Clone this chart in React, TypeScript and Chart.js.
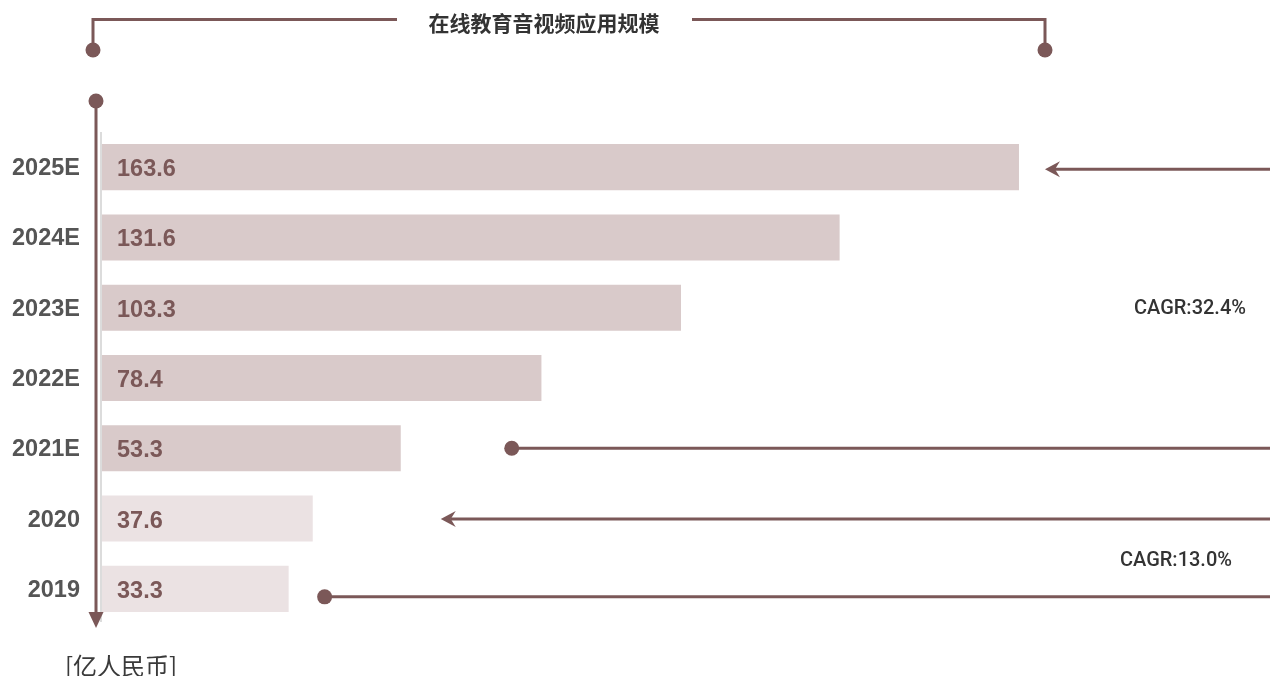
import React, { useEffect, useRef } from 'react';
import { Chart, registerables } from 'chart.js';

Chart.register(...registerables);

const categories = ['2025E', '2024E', '2023E', '2022E', '2021E', '2020', '2019'];
const values = [163.6, 131.6, 103.3, 78.4, 53.3, 37.6, 33.3];
const titleText = '在线教育音视频应用规模';
const unitText = '[亿人民币]';
const cagrLabels = ['CAGR:32.4%', 'CAGR:13.0%'];

const BROWN = '#7b5858';
const BAR_EST = '#d9caca';
const BAR_ACT = '#ebe2e3';

function drawDot(ctx: CanvasRenderingContext2D, x: number, y: number, r: number) {
  ctx.beginPath();
  ctx.arc(x, y, r, 0, Math.PI * 2);
  ctx.fill();
}

function drawLeftArrow(ctx: CanvasRenderingContext2D, tipX: number, y: number) {
  ctx.beginPath();
  ctx.moveTo(tipX, y);
  ctx.lineTo(tipX + 15, y - 8);
  ctx.lineTo(tipX + 10, y);
  ctx.lineTo(tipX + 15, y + 8);
  ctx.closePath();
  ctx.fill();
}

const decorPlugin = {
  id: 'decor',
  afterDatasetsDraw(chart: any) {
    const ctx: CanvasRenderingContext2D = chart.ctx;
    const meta = chart.getDatasetMeta(0);
    ctx.save();
    ctx.fillStyle = BROWN;
    ctx.font = 'bold 23.5px "Liberation Sans", Arial, sans-serif';
    ctx.textAlign = 'left';
    ctx.textBaseline = 'middle';
    meta.data.forEach((bar: any, i: number) => {
      ctx.fillText(values[i].toFixed(1), bar.base + 15, bar.y + 2.5);
    });
    ctx.restore();
  },
  afterDraw(chart: any) {
    const ctx: CanvasRenderingContext2D = chart.ctx;
    const area = chart.chartArea;
    const xs = chart.scales.x;
    const ys = chart.scales.y;
    ctx.save();

    // light axis line
    ctx.strokeStyle = '#dcdcdc';
    ctx.lineWidth = 2;
    ctx.beginPath();
    ctx.moveTo(area.left - 1, area.top);
    ctx.lineTo(area.left - 1, area.bottom - 2);
    ctx.stroke();

    ctx.strokeStyle = BROWN;
    ctx.fillStyle = BROWN;
    ctx.lineWidth = 3;

    // title bracket
    ctx.beginPath();
    ctx.moveTo(93, 50);
    ctx.lineTo(93, 19.5);
    ctx.lineTo(397, 19.5);
    ctx.moveTo(692, 19.5);
    ctx.lineTo(1045, 19.5);
    ctx.lineTo(1045, 50);
    ctx.stroke();
    drawDot(ctx, 93, 50, 7.5);
    drawDot(ctx, 1045, 50, 7.5);

    ctx.fillStyle = '#333333';
    ctx.font = 'bold 21px "Noto Sans CJK SC", sans-serif';
    ctx.textAlign = 'center';
    ctx.textBaseline = 'middle';
    ctx.fillText(titleText, 544, 23);

    // vertical axis arrow
    ctx.fillStyle = BROWN;
    ctx.beginPath();
    ctx.moveTo(96, 101);
    ctx.lineTo(96, 614);
    ctx.stroke();
    drawDot(ctx, 96, 101, 7.5);
    ctx.beginPath();
    ctx.moveTo(88.5, 612);
    ctx.lineTo(103.5, 612);
    ctx.lineTo(96, 628);
    ctx.closePath();
    ctx.fill();

    // unit label
    ctx.fillStyle = '#3a3a3a';
    ctx.font = '24px "Noto Sans CJK SC", sans-serif';
    ctx.textAlign = 'left';
    ctx.textBaseline = 'middle';
    ctx.fillText(unitText, 65, 666);

    // right-side annotation lines
    ctx.fillStyle = BROWN;
    const right = 1270;
    const yTop = ys.getPixelForValue(0) + 2;
    const xTop = xs.getPixelForValue(values[0]) + 26;
    ctx.beginPath();
    ctx.moveTo(right, yTop);
    ctx.lineTo(xTop + 10, yTop);
    ctx.stroke();
    drawLeftArrow(ctx, xTop, yTop);

    const y21 = ys.getPixelForValue(4);
    const x21 = xs.getPixelForValue(values[4]) + 111;
    ctx.beginPath();
    ctx.moveTo(right, y21);
    ctx.lineTo(x21, y21);
    ctx.stroke();
    drawDot(ctx, x21, y21, 7.5);

    const y20 = ys.getPixelForValue(5) + 0.5;
    const x20 = xs.getPixelForValue(values[5]) + 128;
    ctx.beginPath();
    ctx.moveTo(right, y20);
    ctx.lineTo(x20 + 10, y20);
    ctx.stroke();
    drawLeftArrow(ctx, x20, y20);

    const y19 = ys.getPixelForValue(6) + 8;
    const x19 = xs.getPixelForValue(values[6]) + 36;
    ctx.beginPath();
    ctx.moveTo(right, y19);
    ctx.lineTo(x19, y19);
    ctx.stroke();
    drawDot(ctx, x19, y19, 7.5);

    // CAGR labels
    ctx.fillStyle = '#333333';
    ctx.font = '500 20px Roboto, sans-serif';
    ctx.textAlign = 'center';
    ctx.textBaseline = 'middle';
    ctx.fillText(cagrLabels[0], 1190, ys.getPixelForValue(2) + 1);
    ctx.fillText(cagrLabels[1], 1176, (y20 + y19) / 2 + 3);

    ctx.restore();
  },
};

export default function App() {
  const ref = useRef<HTMLCanvasElement>(null);

  useEffect(() => {
    if (!ref.current) return;
    const chart = new Chart(ref.current, {
      type: 'bar',
      data: {
        labels: categories,
        datasets: [
          {
            data: values,
            backgroundColor: categories.map((c) => (c.endsWith('E') ? BAR_EST : BAR_ACT)),
            borderWidth: 0,
            barPercentage: 0.655,
            categoryPercentage: 1,
          },
        ],
      },
      options: {
        indexAxis: 'y',
        animation: false,
        responsive: false,
        maintainAspectRatio: false,
        layout: { padding: { left: 0, right: 47, top: 132, bottom: 52 } },
        plugins: {
          legend: { display: false },
          tooltip: { enabled: false },
          title: { display: false },
        },
        scales: {
          x: { display: false, min: 0, max: 200 },
          y: {
            grid: { display: false, drawTicks: false },
            border: { display: false },
            ticks: {
              padding: 22,
              labelOffset: 1.5,
              color: '#555555',
              font: { family: '"Liberation Sans", Arial, sans-serif', size: 23.5, weight: 'bold' },
            },
            afterFit: (scale: any) => {
              scale.width = 102;
            },
          },
        },
      },
      plugins: [decorPlugin],
    });
    return () => chart.destroy();
  }, []);

  return (
    <div style={{ position: 'fixed', left: 0, top: 0, width: 1270, height: 676, background: '#fff' }}>
      <canvas ref={ref} width={1270} height={676} style={{ display: 'block' }} />
    </div>
  );
}
